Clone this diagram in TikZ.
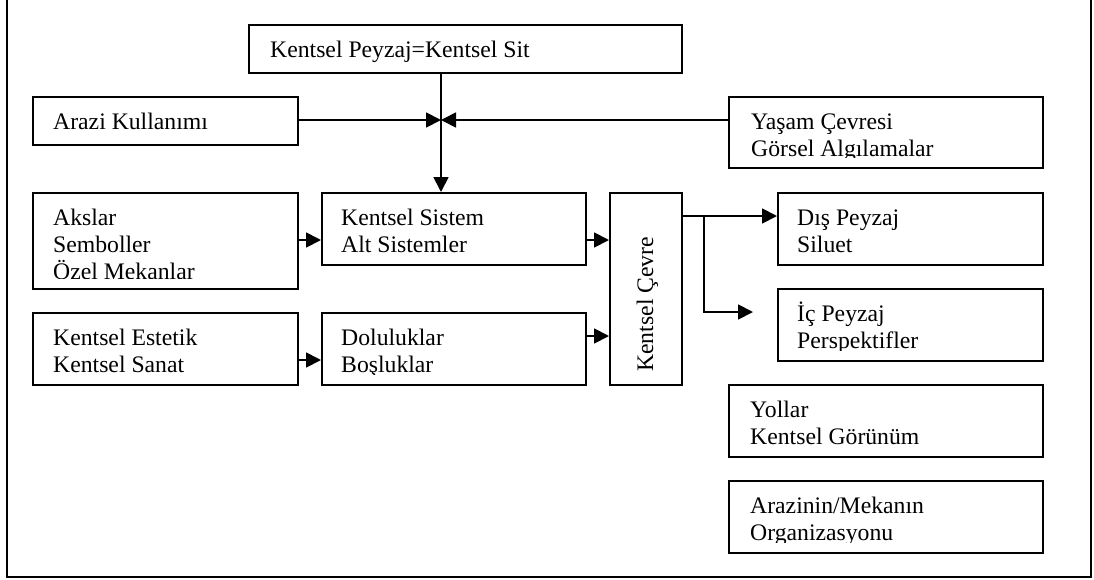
\documentclass[tikz,border=0pt]{standalone}
\usepackage{fontspec}
\setmainfont{Liberation Serif}
\usetikzlibrary{arrows.meta}
\tikzset{
  box/.style={draw, line width=1.8pt, anchor=north west, inner sep=0pt},
  txt/.style={inner sep=0pt, font=\fontsize{23.7pt}{27pt}\selectfont},
  conn/.style={line width=1.8pt},
  arr/.style={conn, -{Triangle[length=15pt,width=15pt]}},
  frame/.style={line width=2.2pt}
}
\newcommand\lns[1]{\vtop{\baselineskip=27pt\lineskiplimit=-50pt\relax #1}}
\newcommand\mkbox[6][21pt]{%
  \node[box, minimum width=#4, minimum height=#5] (#2) at #3 {};
  \begin{scope}
    \clip (#2.north west) rectangle ([yshift=11pt]#2.south east);
    \node[txt, anchor=base west] (#2-t) at ([xshift=#1, yshift=-33pt]#2.north west) {#6};
  \end{scope}}
\begin{document}
\begin{tikzpicture}[x=1pt, y=-1pt]
\useasboundingbox (0,0) rectangle (1094,579);
% outer frame (top edge lies above the picture)
\coordinate (f1) at (7,-5);
\coordinate (f2) at (7,577);
\coordinate (f3) at (1091,577);
\coordinate (f4) at (1091,-5);
\draw[frame] (f1) -- (f2) -- (f3) -- (f4);
% boxes
\mkbox[22pt]{top}{(248,24)}{433pt}{48pt}{Kentsel Peyzaj=Kentsel Sit}
\mkbox{arazi}{(32,96)}{265pt}{48pt}{Arazi Kullanımı}
\mkbox[23pt]{yasam}{(728,96)}{314pt}{71pt}{\lns{\hbox{Yaşam Çevresi}\hbox{Görsel Algılamalar}}}
\mkbox{akslar}{(32,192)}{265pt}{96pt}{\lns{\hbox{Akslar}\hbox{Semboller}\hbox{Özel Mekanlar}}}
\mkbox[20pt]{ks}{(321,192)}{264pt}{72pt}{\lns{\hbox{Kentsel Sistem}\hbox{Alt Sistemler}}}
\node[box, minimum width=72pt, minimum height=192pt] (cevre) at (609,192) {};
\node[txt, rotate=90, anchor=base west] (cevre-t) at (653,372) {Kentsel Çevre};
\mkbox[20pt]{dis}{(777,192)}{265pt}{72pt}{\lns{\hbox{Dış Peyzaj}\hbox{Siluet}}}
\mkbox{estetik}{(32,312)}{265pt}{72pt}{\lns{\hbox{Kentsel Estetik}\hbox{Kentsel Sanat}}}
\mkbox[20pt]{dolu}{(321,312)}{264pt}{72pt}{\lns{\hbox{Doluluklar}\hbox{Boşluklar}}}
\mkbox[20pt]{ic}{(777,288)}{265pt}{72pt}{\lns{\hbox{İç Peyzaj}\hbox{Perspektifler}}}
\mkbox[22pt]{yollar}{(728,384)}{314pt}{72pt}{\lns{\hbox{Yollar}\hbox{Kentsel Görünüm}}}
\mkbox[22pt]{arazinin}{(728,480)}{314pt}{72pt}{\lns{\hbox{Arazinin/Mekanın}\hbox{Organizasyonu}}}
% helper coordinates
\coordinate (j) at (441,120);
\coordinate (ya) at (0,240);
\coordinate (yd) at (0,336);
\coordinate (ye) at (0,360);
\coordinate (yo) at (0,216);
\coordinate (br) at (704,216);
\coordinate (bb) at (704,312);
\coordinate (ictip) at (753,312);
% connectors
\draw[arr] (top.south -| j) -- (ks.north -| j);
\draw[arr] (arazi.east |- j) -- (j);
\draw[arr] (yasam.west |- j) -- (j);
\draw[arr] (akslar.east |- ya) -- (ks.west |- ya);
\draw[arr] (ks.east |- ya) -- (cevre.west |- ya);
\draw[arr] (estetik.east |- ye) -- (dolu.west |- ye);
\draw[arr] (dolu.east |- yd) -- (cevre.west |- yd);
\draw[arr] (cevre.east |- yo) -- (dis.west |- yo);
\draw[arr] (br) -- (bb) -- (ictip);
\end{tikzpicture}
\end{document}
